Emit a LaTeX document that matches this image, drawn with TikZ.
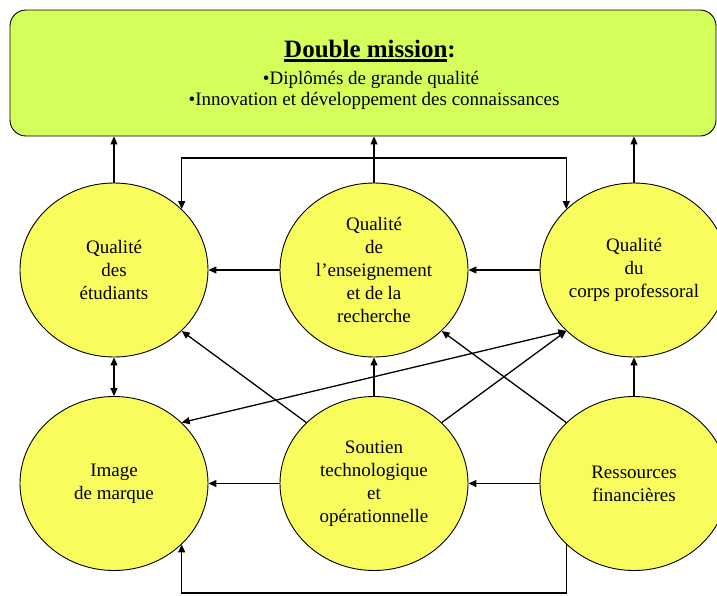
\documentclass[tikz,border=0pt]{standalone}
\usepackage{fontspec}
\setmainfont{Liberation Serif}
\usetikzlibrary{shapes.geometric,arrows.meta}
\definecolor{boxfill}{RGB}{212,255,90}
\definecolor{ellfill}{RGB}{248,252,92}
\newcommand\ulmission[1]{\setbox0\hbox{#1}\rlap{\rule[-4.5pt]{\wd0}{2.2pt}}\box0}
\begin{document}
\begin{tikzpicture}[x=1pt,y=1pt,
  circ/.style={ellipse, draw=black, line width=0.9pt, fill=ellfill, minimum width=188pt, minimum height=174pt, inner sep=0pt, align=center, font=\fontsize{19}{23}\selectfont},
  conn/.style={line width=1.3pt, -{Triangle[length=8pt,width=7pt]}},
  bconn/.style={line width=1.3pt, {Triangle[length=8pt,width=7pt]}-{Triangle[length=8pt,width=7pt]}},
  boxtext/.style={anchor=base, font=\fontsize{19}{21}\selectfont},
]
\useasboundingbox (0,0) rectangle (717,-595);
\node[draw, line width=0.9pt, fill=boxfill, rounded corners=16pt, minimum width=706pt, minimum height=126pt, inner sep=0pt] (box) at (363,-73) {};
\node[anchor=base, font=\fontsize{25}{28}\selectfont\bfseries] (t1) at (370,-57) {\ulmission{Double mission}:};
\node[boxtext] (t2) at (371,-84) {•Diplômés de grande qualité};
\node[boxtext] (t3) at (374,-105) {•Innovation et développement des connaissances};

\node[circ] (q1) at (114,-270) {Qualité\\des\\étudiants};
\node[circ] (q2) at (374,-270) {Qualité\\de\\l’enseignement\\et de la\\recherche};
\node[circ] (q3) at (634,-270) {Qualité\\du\\corps professoral};
\node[circ] (i1) at (114,-483.5) {Image\\de marque};
\node[circ] (s) at (374,-483.5) {Soutien\\technologique\\et\\opérationnelle};
\node[circ] (r) at (634,-483.5) {Ressources\\financières};

\coordinate (btop) at (0,-158);
\coordinate (bbot) at (0,-593);

% up to the mission box
\draw[conn] (q1.north) -- (q1.north |- box.south);
\draw[conn] (q2.north) -- (q2.north |- box.south);
\draw[conn] (q3.north) -- (q3.north |- box.south);

% top bracket
\draw[bconn] (q1.42) -- (q1.42 |- btop) -- (q3.138 |- btop) -- (q3.138);

% horizontals
\draw[conn] (q2.west) -- (q1.east);
\draw[conn] (q3.west) -- (q2.east);
\draw[conn] (s.west) -- (i1.east);
\draw[conn] (r.west) -- (s.east);

% verticals
\draw[bconn] (q1.south) -- (i1.north);
\draw[conn] (s.north) -- (q2.south);
\draw[conn] (r.north) -- (q3.south);

% diagonals
\draw[conn] (s.138) -- (q1.318);
\draw[conn] (s.42) -- (q3.222);
\draw[conn] (r.138) -- (q2.318);
\draw[bconn] (i1.42) -- (q3.222);

% bottom bracket
\draw[conn] (r.222) -- (r.222 |- bbot) -- (i1.318 |- bbot) -- (i1.318);
\end{tikzpicture}
\end{document}
